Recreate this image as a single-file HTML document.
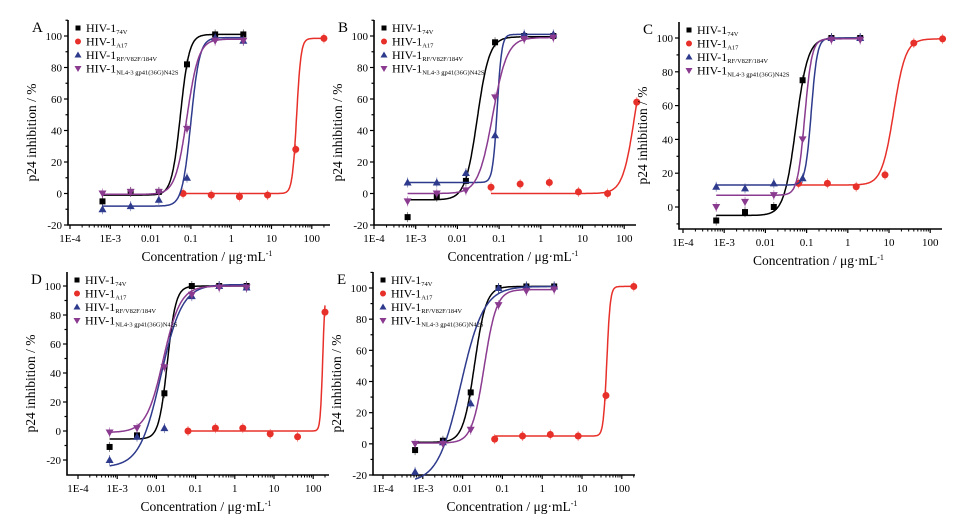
<!DOCTYPE html>
<html><head><meta charset="utf-8"><style>
body{margin:0;background:#fff;}
svg{display:block;font-family:"Liberation Serif",serif;}
</style></head><body>
<svg id="fig" width="970" height="515" viewBox="0 0 970 515"></svg>
<script>
const strainNames = ["74V","A17","RF/V82F/184V","NL4-3 gp41(36G)N42S"];
const strainConc = [0.00064,0.0032,0.016,0.08,0.4,2];
const a17Conc = [0.064,0.32,1.6,8,40,200];
const xTickLabels = ["1E-4","1E-3","0.01","0.1","1","10","100"];
const yTickValues = [-20,0,20,40,60,80,100];
// per-panel point values [black, red, blue, purple]
const valsA = [[-5,1,1,82,101,101],[0,-1,-2,-1,28,98.5],[-10,-8,-4,10,99,97],[0,1,1,41,97,97]];
const valsB = [[-15,-2,8,96,100,100],[4,6,7,1,0,58],[7,7,13,37,101,101],[-5,0,2,61,98,99]];
const valsC = [[-8,-3,0,75,100,100],[14,14,12,19,97,99.5],[12,11,14,17,100,100],[0,3,7,40,99,99]];
const valsD = [[-11,-3,26,100,100,100],[0,2,2,-2,-4,82],[-20,-4,2,93,100,99],[-1,2,44,94,99,99]];
const valsE = [[-4,2,33,100,101,101],[3,5,6,5,31,101],[-18,1,26,100,101,101],[0,0,9,89,98,99]];
// logistic fit params [bottom, top, ec50, hill]
const fitA = [[-1,101,0.055,4],[0,98.5,42,8],[-8,99,0.1,4],[-0.5,98,0.08,3]];
const fitB = [[-4,99.5,0.03,3],[0,100,180,3],[7,101,0.09,8],[0,99,0.07,2.5]];
const fitC = [[-5,100,0.055,3],[13,99.5,13,3],[13,100,0.13,6],[7,99.5,0.09,5]];
const fitD = [[-5.5,100,0.019,4],[0,100,175,14],[-25,101,0.013,1.6],[-1,100,0.015,2]];
const fitE = [[1,101,0.02,3],[5,101,42,10],[-25,101,0.009,1.5],[0.5,99,0.035,2.8]];

const colors = ["#000000","#e8302a","#2e3a8c","#8a3a8f"];
const NS="http://www.w3.org/2000/svg";
const svg=document.getElementById("fig");
function mk(tag,attrs,parent){const e=document.createElementNS(NS,tag);for(const k in attrs)e.setAttribute(k,attrs[k]);(parent||svg).appendChild(e);return e;}

const panels=[
 {id:"a",letter:"A",vals:valsA,fit:fitA,axL:68,axR:330,axT:20,axB:225,x0:70,dec:40.3,y100:36,yMinPx:225,ymin:-20},
 {id:"b",letter:"B",vals:valsB,fit:fitB,axL:374,axR:636,axT:20,axB:225,x0:374,dec:41.7,y100:36,yMinPx:225,ymin:-20},
 {id:"c",letter:"C",vals:valsC,fit:fitC,axL:679,axR:942,axT:22,axB:229,x0:683,dec:41.2,y100:38,yMinPx:207,ymin:0},
 {id:"d",letter:"D",vals:valsD,fit:fitD,axL:67,axR:329,axT:272,axB:475,x0:78,dec:39.2,y100:286,yMinPx:460,ymin:-20},
 {id:"e",letter:"E",vals:valsE,fit:fitE,axL:373,axR:635,axT:272,axB:475,x0:383,dec:39.8,y100:288,yMinPx:475,ymin:-20}
];

panels.forEach(p=>{
 const g=mk("g",{});
 
 
 const X=v=>p.x0+(Math.log10(v)+4)*p.dec;
 const Y=v=>p.yMinPx+(v-p.ymin)*(p.y100-p.yMinPx)/(100-p.ymin);
 const ax=mk("path",{d:`M${p.axL},${p.axT}V${p.axB}H${p.axR}`,stroke:"#000","stroke-width":1.6,fill:"none"},g);
 
 
 for(let v=-20;v<=110;v+=10){
  const y=Y(v); if(y>p.axB+0.5||y<p.axT) continue;
  const major=v%20===0;
  mk("line",{x1:p.axL-(major?4:2.5),x2:p.axL,y1:y,y2:y,stroke:"#000","stroke-width":1.2},g);
  if(major){const t=mk("text",{x:p.axL-6,y:y+4,"font-size":11,"text-anchor":"end"},g);t.textContent=v;
   }
 }
 for(let d=-4;d<=2;d++){
  const x=X(Math.pow(10,d));
  mk("line",{x1:x,x2:x,y1:p.axB,y2:p.axB+4,stroke:"#000","stroke-width":1.2},g);
  const t=mk("text",{x:x,y:p.axB+17,"font-size":11,"text-anchor":"middle"},g);t.textContent=xTickLabels[d+4];
  
  for(let m=2;m<=9;m++){const xm=X(m*Math.pow(10,d));if(xm>p.axR)break;
   mk("line",{x1:xm,x2:xm,y1:p.axB,y2:p.axB+2.5,stroke:"#000","stroke-width":1},g);}
 }
 const xt=mk("text",{x:(p.axL+p.axR)/2+8,y:p.axB+36,"font-size":13.5,"text-anchor":"middle"},g);
 xt.innerHTML='Concentration / μg·mL<tspan dy="-5" font-size="8">-1</tspan>';
 
 const ycx=p.axL-32, ycy=(p.axT+p.axB)/2+10;
 const yt=mk("text",{x:ycx,y:ycy,"font-size":13.5,"text-anchor":"middle",transform:`rotate(-90 ${ycx} ${ycy})`},g);
 yt.textContent="p24 inhibition / %";
 
 const pl=mk("text",{x:p.axL-36,y:p.axT+12,"font-size":15},g);pl.textContent=p.letter;
 
 for(let s=0;s<4;s++){
  const conc = s===1?a17Conc:strainConc;
  const [b,tp,ec,h]=p.fit[s];
  const lo=Math.log10(conc[0]),hi=Math.log10(conc[5]);
  let d="";
  for(let i=0;i<=300;i++){const lx=lo+(hi-lo)*i/300;const c=Math.pow(10,lx);
   const v=b+(tp-b)/(1+Math.pow(ec/c,h));d+=(i?"L":"M")+X(c).toFixed(1)+","+Y(v).toFixed(1);}
  const cv=mk("path",{d:d,stroke:colors[s],"stroke-width":1.5,fill:"none"},g);
  
  
  p.vals[s].forEach((v,i)=>{
   const x=X(conc[i]),y=Y(v);
   mk("line",{x1:x,x2:x,y1:y-5,y2:y+5,stroke:colors[s],"stroke-width":0.8,opacity:0.6},g);
   let m;
   if(s===0) m=mk("rect",{x:x-3,y:y-3,width:6,height:6,fill:colors[s]},g);
   else if(s===1) m=mk("circle",{cx:x,cy:y,r:3.5,fill:colors[s]},g);
   else if(s===2) m=mk("path",{d:`M${x},${y-4}L${x+4},${y+3}L${x-4},${y+3}Z`,fill:colors[s]},g);
   else m=mk("path",{d:`M${x},${y+4}L${x+4},${y-3}L${x-4},${y-3}Z`,fill:colors[s]},g);
   
   
  });
 }
 const lg=mk("g",{},g);
 
 
 for(let s=0;s<4;s++){
  const lx=p.axL+10, ly=p.axT+12+s*13.5;
  let m;
  if(s===0) m=mk("rect",{x:lx-2.5,y:ly-6.5,width:5,height:5,fill:colors[s]},lg);
  else if(s===1) m=mk("circle",{cx:lx,cy:ly-4,r:3,fill:colors[s]},lg);
  else if(s===2) m=mk("path",{d:`M${lx},${ly-7.5}L${lx+3.5},${ly-1.5}L${lx-3.5},${ly-1.5}Z`,fill:colors[s]},lg);
  else m=mk("path",{d:`M${lx},${ly-0.5}L${lx+3.5},${ly-6.5}L${lx-3.5},${ly-6.5}Z`,fill:colors[s]},lg);
  const t=mk("text",{x:lx+8,y:ly,"font-size":12},lg);
  t.innerHTML='HIV-1<tspan font-size="6.5" dy="2">'+strainNames[s]+'</tspan>';
  
  
 }
});
</script>
</body></html>
